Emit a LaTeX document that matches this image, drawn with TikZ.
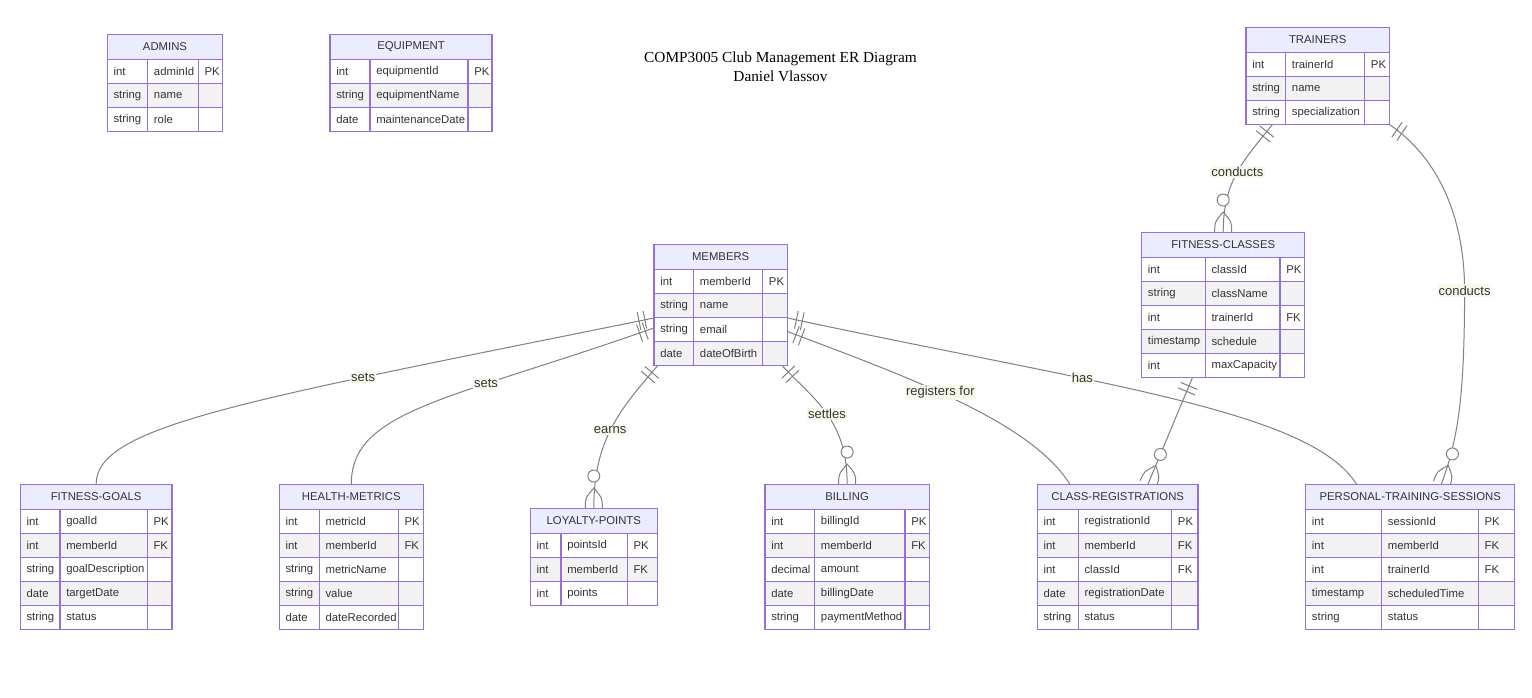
\documentclass[tikz,border=0pt]{standalone}
\usepackage{fontspec}
\setmainfont{Liberation Sans}
\newfontfamily\titlefont{Liberation Serif}
\usetikzlibrary{calc,fit,decorations.markings}

\definecolor{entborder}{HTML}{9370DB}
\definecolor{hdrfill}{HTML}{ECECFF}
\definecolor{rowgray}{HTML}{F2F2F2}
\definecolor{txtdark}{HTML}{333333}
\definecolor{relgray}{HTML}{808080}
\definecolor{lblbg}{HTML}{F7F9EC}

\pgfdeclarelayer{edges}
\pgfsetlayers{edges,main}

\tikzset{
entline/.style={draw=entborder,line width=1.1pt},
enttitle/.style={text=txtdark,font=\fontsize{8.5}{10}\selectfont,inner sep=0pt},
attr/.style={anchor=west,text=txtdark,font=\fontsize{8.5}{10}\selectfont,inner sep=0pt},
lbl/.style={fill=lblbg,text=txtdark,font=\fontsize{9.75}{11}\selectfont,inner sep=1pt},
rel/.style={draw=relgray,line width=0.75pt,postaction={decorate},
decoration={markings,
mark=at position 0 with {\draw[relgray,line width=0.75pt] (9,-9)--(9,9) (15,-9)--(15,9);},
mark=at position 1 with {\draw[relgray,line width=0.75pt] (0,8.5) .. controls (-10,8.5) .. (-20,0) .. controls (-10,-8.5) .. (0,-8.5);
\draw[relgray,line width=0.75pt,fill=white] (-32,0) circle[radius=4.5pt];}}}
}

\newcommand{\erentity}[9]{%
\fill[hdrfill] (#3,#7) rectangle (#6,#7+25);
\foreach \ty/\nm/\ky [count=\i] in {#9}{
\pgfmathsetmacro\ytop{#7+1+\i*24}
\ifodd\i\relax\def\rowcol{white}\else\def\rowcol{rowgray}\fi
\fill[fill=\rowcol] (#3,\ytop) rectangle (#6,\ytop+24);
\node[attr] at (#3+6,\ytop+12) {\ty};
\node[attr] at (#4+6,\ytop+12) {\nm};
\node[attr] at (#5+6,\ytop+12) {\ky};
}
\foreach \j in {1,...,#8}
\draw[entline] (#3,#7+1+\j*24) -- (#6,#7+1+\j*24);
\draw[entline] (#4,#7+25) -- (#4,#7+25+#8*24) (#5,#7+25) -- (#5,#7+25+#8*24);
\draw[entline] (#3,#7) rectangle (#6,#7+25+#8*24);
\node[enttitle] at ({(#3+#6)/2},#7+12.5) {#2};
\node[inner sep=0pt,fit={(#3,#7) (#6,#7+25+#8*24)}] (#1) {};
}

\begin{document}
\begin{tikzpicture}[x=0.75pt,y=-0.75pt]
\useasboundingbox (0,0) rectangle (1532,698);

\node[align=center,text=black,font=\titlefont\fontsize{11.5}{14.25}\selectfont] (title) at (780.5,66.5) {COMP3005 Club Management ER Diagram\\Daniel Vlassov};

\erentity{admins}{ADMINS}{107.3}{147.7}{198.3}{222.7}{34.3}{3}{int/adminId/PK, string/name/{}, string/role/{}}
\erentity{equip}{EQUIPMENT}{330}{370}{468}{492}{34.3}{3}{int/equipmentId/PK, string/equipmentName/{}, date/maintenanceDate/{}}
\erentity{trainers}{TRAINERS}{1246}{1285.7}{1364.7}{1389.3}{27.3}{3}{int/trainerId/PK, string/name/{}, string/specialization/{}}
\erentity{fclasses}{FITNESS-CLASSES}{1141.7}{1205.3}{1280}{1304.7}{232.3}{5}{int/classId/PK, string/className/{}, int/trainerId/FK, timestamp/schedule/{}, int/maxCapacity/{}}
\erentity{members}{MEMBERS}{654}{693.7}{762.7}{787.3}{244.3}{4}{int/memberId/PK, string/name/{}, string/email/{}, date/dateOfBirth/{}}
\erentity{fgoals}{FITNESS-GOALS}{20.3}{60}{147.3}{172}{484.3}{5}{int/goalId/PK, int/memberId/FK, string/goalDescription/{}, date/targetDate/{}, string/status/{}}
\erentity{hmetrics}{HEALTH-METRICS}{279.3}{319.3}{398.3}{423.3}{484.3}{5}{int/metricId/PK, int/memberId/FK, string/metricName/{}, string/value/{}, date/dateRecorded/{}}
\erentity{lpoints}{LOYALTY-POINTS}{530.3}{561}{627.3}{657.3}{508.3}{3}{int/pointsId/PK, int/memberId/FK, int/points/{}}
\erentity{billing}{BILLING}{765}{814.7}{905}{929.3}{484.3}{5}{int/billingId/PK, int/memberId/FK, decimal/amount/{}, date/billingDate/{}, string/paymentMethod/{}}
\erentity{cregs}{CLASS-REGISTRATIONS}{1037.3}{1078.3}{1171.7}{1198}{484.3}{5}{int/registrationId/PK, int/memberId/FK, int/classId/FK, date/registrationDate/{}, string/status/{}}
\erentity{ptsess}{PERSONAL-TRAINING-SESSIONS}{1305.7}{1381.7}{1478.3}{1514.7}{484.3}{5}{int/sessionId/PK, int/memberId/FK, int/trainerId/FK, timestamp/scheduledTime/{}, string/status/{}}

\begin{pgfonlayer}{edges}
\fill[white] (0,0) rectangle (1532,698);
\coordinate (m-l1) at ($(members.north west)+(0,74)$);
\coordinate (m-l2) at ($(members.north west)+(0,84)$);
\coordinate (m-b1) at ($(members.south west)+(4,0)$);
\coordinate (m-b2) at ($(members.south east)+(-5.5,0)$);
\coordinate (m-r1) at ($(members.north east)+(0,74)$);
\coordinate (m-r2) at ($(members.north east)+(0,87.5)$);
\coordinate (t-b1) at ($(trainers.south west)+(26.7,0)$);
\coordinate (t-mid) at ($(trainers.south east)+(75,166)$);
\coordinate (fc-b1) at ($(fclasses.south west)+(51,0)$);
\coordinate (cr-t1) at ($(cregs.north west)+(32.7,0)$);
\coordinate (cr-t2) at ($(cregs.north west)+(111,0)$);
\coordinate (pt-t1) at ($(ptsess.north west)+(51,0)$);
\coordinate (pt-t2) at ($(ptsess.north west)+(136,0)$);

\draw[rel] (m-l1) .. controls +(-404,82) and +(0,-59) .. (fgoals.north) node[lbl,pos=0.29] {sets};
\draw[rel] (m-l2) .. controls +(-204,72) and +(0,-74) .. (hmetrics.north) node[lbl,pos=0.33] {sets};
\draw[rel] (m-b1) .. controls +(-38,44) and +(0,-68) .. (lpoints.north) node[lbl,pos=0.52] {earns};
\draw[rel] (m-b2) .. controls +(33,35) and +(0,-64) .. (billing.north) node[lbl,pos=0.5] {settles};
\draw[rel] (m-r2) .. controls +(113,43) and +(-40,-64) .. (cr-t1) node[lbl,pos=0.45] {registers for};
\draw[rel] (m-r1) .. controls +(313,67) and +(-47,-74) .. (pt-t1) node[lbl,pos=0.36] {has};
\draw[rel] (t-b1) .. controls +(-28,35) and +(0,-52) .. (fclasses.north) node[lbl,pos=0.5] {conducts};
\draw[rel] (trainers.south east) .. controls +(51,35) and +(0,-70) .. (t-mid) node[lbl] {conducts} .. controls +(0,110) and +(16,-44) .. (pt-t2);
\draw[rel] (fc-b1) -- (cr-t2);
\end{pgfonlayer}
\end{tikzpicture}
\end{document}
